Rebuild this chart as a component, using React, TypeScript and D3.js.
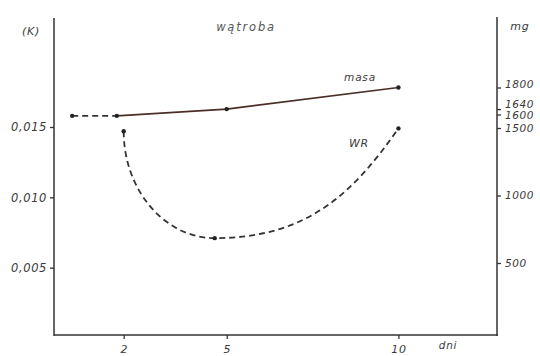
import React, { useEffect, useRef } from "react";
import * as d3 from "d3";

// x axis (days)
const dayTicks = [2, 5, 10];
// left axis (K) and right axis (mg)
const kTicks = [0.005, 0.01, 0.015];
const mgTicks = [500, 1000, 1500, 1600, 1640, 1800];
const mgLabelShift = [0, 0, 0, 1, -5, -3];

// masa series (mg, right axis)
const masaDays = [0.5, 1.8, 5, 10];
const masaMg = [1590, 1590, 1640, 1800];

// WR series (K, left axis)
const wrDays = [2, 4.65, 10];
const wrK = [0.0147, 0.0071, 0.0149];

const ink = "#333";
const font = "'DejaVu Sans', sans-serif";

// hand-drawn looking curve: falls vertically from the first point,
// flat at the minimum, rises steeply into the last point
function wrPath(pts: [number, number][]) {
    const p = d3.path();
    const [a, b, c] = pts;
    p.moveTo(a[0], a[1]);
    p.bezierCurveTo(a[0], a[1] + 0.55 * (b[1] - a[1]), b[0] - 0.55 * (b[0] - a[0]), b[1], b[0], b[1]);
    p.bezierCurveTo(b[0] + 0.5 * (c[0] - b[0]), b[1], c[0] - 0.25 * (c[0] - b[0]), c[1] + 0.6 * (b[1] - c[1]), c[0], c[1]);
    return p.toString();
}

function App() {
    const ref = useRef<SVGSVGElement>(null);

    useEffect(() => {
        const svg = d3.select(ref.current);
        svg.selectAll("*").remove();

        const x = d3.scaleLinear().domain([0, 12.87]).range([55, 497]);
        const yK = d3.scaleLinear().domain([0, 0.015]).range([338, 127]);
        const yMg = d3.scaleLinear().domain([500, 1500]).range([263, 128]);

        // frame lines
        const frame = svg.append("g").attr("stroke", ink).attr("stroke-width", 1.5);
        frame.append("line").attr("x1", 54).attr("x2", 54).attr("y1", 18).attr("y2", 336);
        frame.append("line").attr("x1", 54).attr("x2", 498).attr("y1", 335).attr("y2", 335);
        frame.append("line").attr("x1", 497).attr("x2", 497).attr("y1", 17).attr("y2", 336);

        const styleAxis = (g: any, size = "10.5px") => {
            g.select(".domain").remove();
            g.selectAll("line").attr("stroke", ink).attr("stroke-width", 1.3);
            g.selectAll("text")
                .attr("fill", "#3a3a3a")
                .style("font-family", font)
                .style("font-style", "italic")
                .style("font-size", size)
                .style("letter-spacing", "0.6px");
        };

        // left axis
        svg.append("g")
            .attr("transform", "translate(54,0)")
            .call(d3.axisLeft(yK).tickValues(kTicks).tickSize(4).tickPadding(3)
                .tickFormat((d: any) => d3.format(".3f")(d).replace(".", ",")))
            .call(styleAxis, "11.5px");

        // right axis
        const right = svg.append("g")
            .attr("transform", "translate(497,0)")
            .call(d3.axisRight(yMg).tickValues(mgTicks).tickSize(4).tickPadding(4)
                .tickFormat((d: any) => String(d)))
            .call(styleAxis);
        right.selectAll("text").attr("y", (d: any, i: number) => mgLabelShift[i]);

        // bottom axis
        svg.append("g")
            .attr("transform", "translate(0,335)")
            .call(d3.axisBottom(x).tickValues(dayTicks).tickSize(4).tickPadding(6))
            .call(styleAxis, "11px");

        const label = (t: string, lx: number, ly: number, size = "10.5px", fill = "#3a3a3a", ls = "0.8px") =>
            svg.append("text").attr("x", lx).attr("y", ly).attr("text-anchor", "middle")
                .attr("fill", fill)
                .style("font-family", font).style("font-style", "italic")
                .style("font-size", size).style("letter-spacing", ls)
                .text(t);

        label("(K)", 31, 35, "11px");
        label("mg", 520, 30, "11px");
        label("wątroba", 246, 31, "11.5px", "#555", "1.8px");
        label("dni", 448, 349);
        label("masa", 360, 81);
        label("WR", 359, 147, "11px");

        // masa line: first segment dashed, rest solid
        const masa = masaDays.map((d, i) => [x(d), yMg(masaMg[i])] as [number, number]);
        const line = d3.line();
        svg.append("path").attr("d", line(masa.slice(0, 2)))
            .attr("fill", "none").attr("stroke", ink).attr("stroke-width", 1.8)
            .attr("stroke-dasharray", "6,4");
        svg.append("path").attr("d", line(masa.slice(1)))
            .attr("fill", "none").attr("stroke", "#4a2e28").attr("stroke-width", 1.6);

        // WR curve
        const wr = wrDays.map((d, i) => [x(d), yK(wrK[i])] as [number, number]);
        svg.append("path").attr("d", wrPath(wr))
            .attr("fill", "none").attr("stroke", ink).attr("stroke-width", 1.8)
            .attr("stroke-dasharray", "6,4");

        svg.selectAll(".dot")
            .data([...masa, ...wr])
            .join("circle")
            .attr("cx", (d: any) => d[0])
            .attr("cy", (d: any) => d[1])
            .attr("r", 2.2)
            .attr("fill", "#222");
    }, []);

    return (
        <svg ref={ref} width={540} height={356}
            style={{ position: "absolute", left: 0, top: 0, background: "#fff" }} />
    );
}

export default App;
